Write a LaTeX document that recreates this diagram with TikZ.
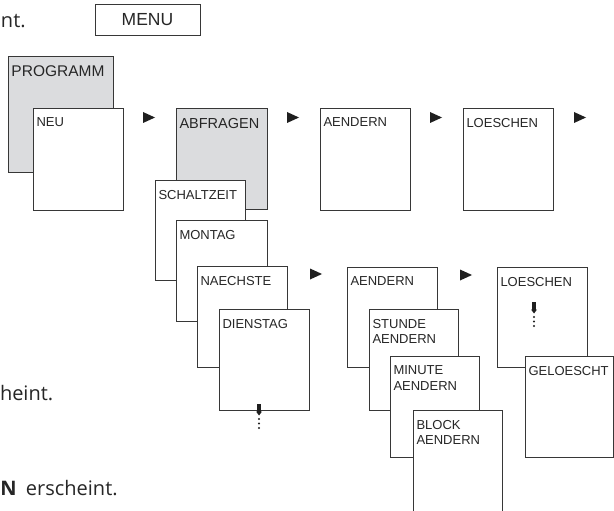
\documentclass[tikz,border=0pt]{standalone}
\usepackage{fontspec}
\setmainfont{Liberation Sans}
\newfontfamily\bodyfont{Open Sans}
\usetikzlibrary{calc}
\definecolor{boxgray}{RGB}{219,220,222}
\definecolor{edge}{RGB}{55,55,55}
\tikzset{
  box/.style={draw=edge, line width=0.9pt, fill=white, inner sep=0pt, outer sep=0pt},
  graybox/.style={fill=boxgray},
  lbl/.style={inner sep=0pt, outer sep=0pt, anchor=north west, align=left, text=black!85,
              font=\fontsize{13}{15.3}\selectfont},
  marker/.style={fill=black!88},
  body/.style={inner sep=0pt, outer sep=0pt, text=black!85, font=\bodyfont\fontsize{20}{24}\selectfont},
}
% #1 name, #2 box style, #3 x, #4 y, #5 width, #6 height, #7 label style, #8 text
\newcommand{\drawmenubox}[8]{%
  \node[box,#2,minimum width=#5pt,minimum height=#6pt,anchor=north west] (#1) at (#3,#4) {};
  \node[lbl,#7] (#1-t) at ($(#1.north west)+(3.5,10)$) {#8};}
\newcommand{\righttri}[2]{\fill[marker] (#1,#2-5.5) -- (#1+12,#2) -- (#1,#2+5.5) -- cycle;}
\newcommand{\downmark}[2]{%
  \fill[marker] (#1-1.8,#2) -- (#1+1.8,#2) -- (#1+1.8,#2+7.5) -- (#1+3,#2+7.5) -- (#1,#2+11.5)
     -- (#1-3,#2+7.5) -- (#1-1.8,#2+7.5) -- cycle;
  \foreach \d in {15,19.5,24} {\fill[marker] (#1,#2+\d) circle (1.05pt);}}
\begin{document}
\begin{tikzpicture}[x=1pt,y=-1pt]
\useasboundingbox (0,0) rectangle (614,511);

% fragments of running text
\node[body,anchor=base west] (t1) at (1,28) {nt.};
\node[body,anchor=base west] (t2) at (0,400) {heint.};
\node[body,anchor=base west] (t3) at (0.5,495) {\textbf{N}};
\node[body,anchor=base west] (t4) at (26,495) {erscheint.};

% MENU key
\node[box, minimum width=105pt, minimum height=31pt, anchor=north west,
      text=black!85, font=\fontsize{17.5}{20}\selectfont] (menu) at (95,4) {MENU};

% top row
\drawmenubox{programm}{graybox}{8}{56}{105}{116}{font=\fontsize{15.5}{18}\selectfont}{PROGRAMM}
\drawmenubox{neu}{}{33}{108}{90}{102}{}{NEU}
\drawmenubox{abfragen}{graybox}{176}{108}{91}{101}{font=\fontsize{14.5}{17}\selectfont}{ABFRAGEN}
\drawmenubox{aendern}{}{320}{108}{90}{102}{}{AENDERN}
\drawmenubox{loeschen}{}{463}{108}{90}{102}{}{LOESCHEN}

\righttri{143}{117.5}
\righttri{287}{117.5}
\righttri{430}{117.5}
\righttri{574}{117.5}

% ABFRAGEN branch
\drawmenubox{schaltzeit}{}{155}{180}{90}{100}{}{SCHALTZEIT}
\drawmenubox{montag}{}{176}{220}{91}{101}{}{MONTAG}
\drawmenubox{naechste}{}{197}{266}{90}{101}{}{NAECHSTE}
\drawmenubox{dienstag}{}{219}{309}{90}{101}{}{DIENSTAG}
\downmark{259}{404}

\righttri{310}{274}

% AENDERN branch
\drawmenubox{aendern2}{}{347}{267}{90}{100}{}{AENDERN}
\drawmenubox{stunde}{}{369}{309}{89}{101}{}{STUNDE\\AENDERN}
\drawmenubox{minute}{}{390}{356}{89}{101}{}{MINUTE\\AENDERN}
\drawmenubox{block}{}{413}{410}{89}{104}{}{BLOCK\\AENDERN}

\righttri{460}{275}

% LOESCHEN branch
\drawmenubox{loeschen2}{}{497}{267}{90}{100}{}{LOESCHEN}
\downmark{534}{302}
\drawmenubox{geloescht}{}{525}{356}{88}{101}{}{GELOESCHT}
\end{tikzpicture}
\end{document}
